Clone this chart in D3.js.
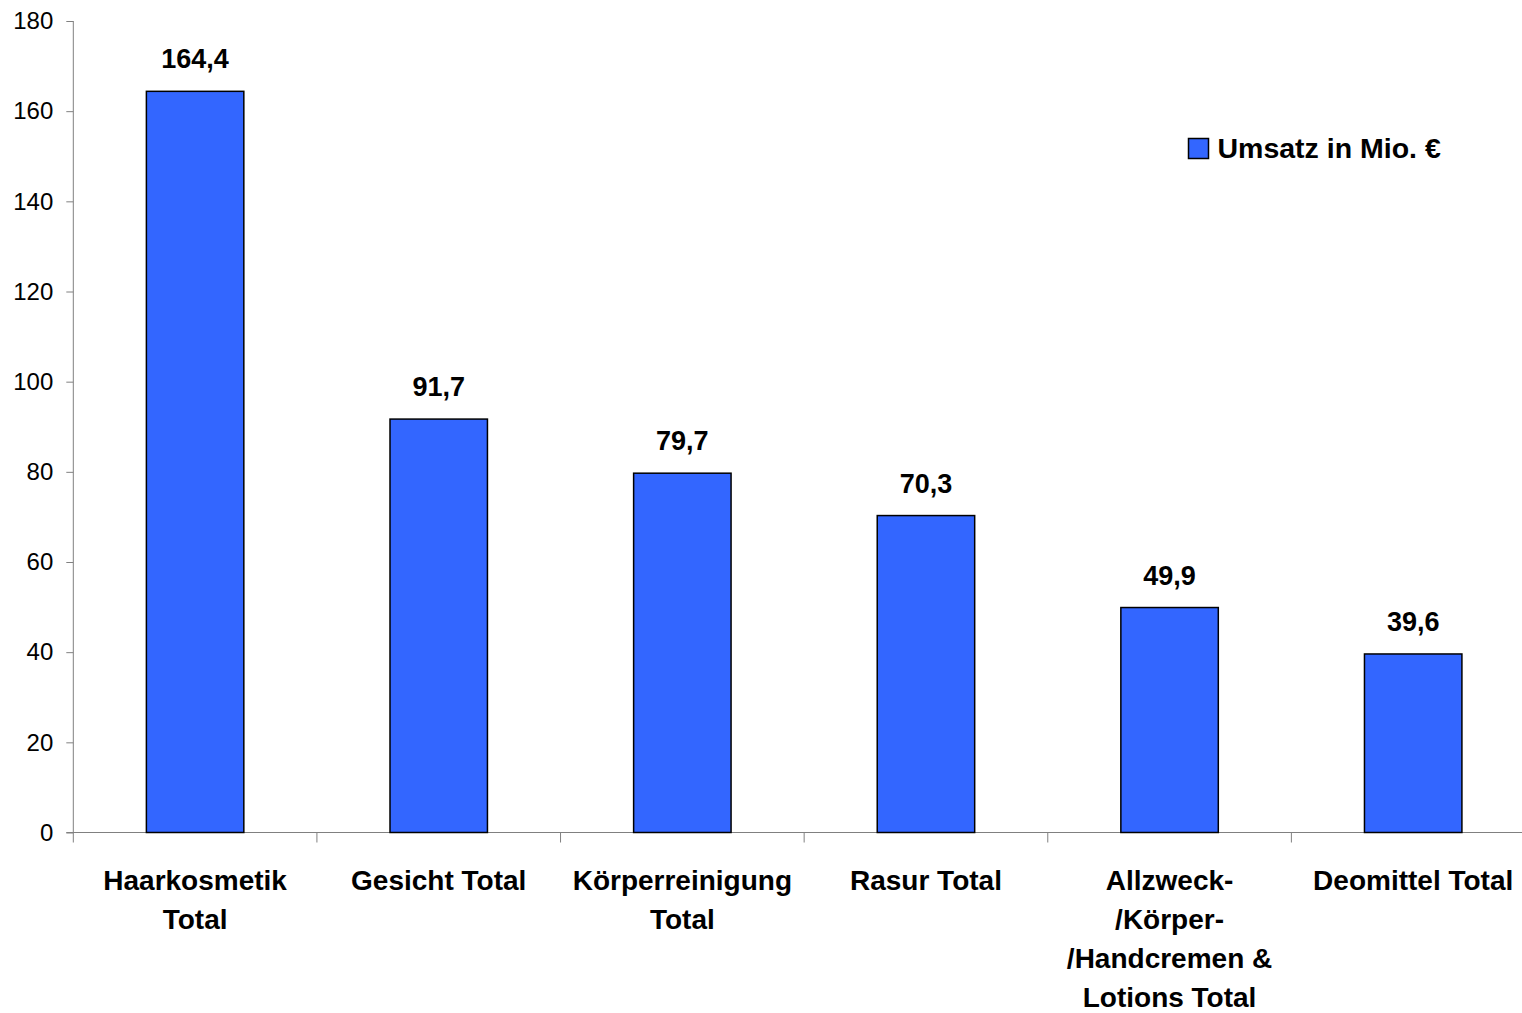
<!DOCTYPE html>
<html>
<head>
<meta charset="utf-8">
<script src="https://cdn.jsdelivr.net/npm/d3@7"></script>
<style>
  body { margin: 0; background: #fff; }
  text { font-family: "Liberation Sans", Arial, sans-serif; }
</style>
</head>
<body>
<svg></svg>
<script>
// categories, one entry per bar (lines as they wrap in the original)
var categories = [
    ["Haarkosmetik", "Total"],
    ["Gesicht Total"],
    ["Körperreinigung", "Total"],
    ["Rasur Total"],
    ["Allzweck-", "/Körper-", "/Handcremen &", "Lotions Total"],
    ["Deomittel Total"]
];
// Umsatz in Mio. €
var umsatz = [164.4, 91.7, 79.7, 70.3, 49.9, 39.6];
var yTicks = [0, 20, 40, 60, 80, 100, 120, 140, 160, 180];
var seriesName = "Umsatz in Mio. €";

var svgWidth = 1522, svgHeight = 1013;
var plotLeft = 73.3, plotRight = 1535, plotTop = 21, plotBottom = 832.5;

var svg = d3.select('svg')
    .attr("width", svgWidth)
    .attr("height", svgHeight);

var x = d3.scaleBand()
    .domain(d3.range(categories.length))
    .range([plotLeft, plotRight])
    .paddingInner(0.6)
    .paddingOuter(0.3);

var y = d3.scaleLinear().domain([0, 180]).range([plotBottom, plotTop]);

// y axis
var yAxis = svg.append("g")
    .attr("transform", "translate(" + plotLeft + ",0)")
    .call(d3.axisLeft(y).tickValues(yTicks).tickSize(7).tickPadding(13).tickFormat(d3.format("d")));
yAxis.select(".domain").attr("stroke", "#808080").attr("d", "M0," + plotTop + "V" + plotBottom);
yAxis.selectAll(".tick line").attr("stroke", "#808080");
yAxis.selectAll(".tick text").attr("font-size", 24).attr("fill", "#000")
    .style("font-family", "'Liberation Sans', Arial, sans-serif");

// x axis: line plus category separator ticks
var bandStep = (plotRight - plotLeft) / categories.length;
var xAxisG = svg.append("g");
xAxisG.append("line")
    .attr("x1", plotLeft - 7).attr("x2", plotRight)
    .attr("y1", plotBottom).attr("y2", plotBottom)
    .attr("stroke", "#808080");
xAxisG.selectAll("line.sep")
    .data(d3.range(categories.length + 1))
    .enter().append("line")
    .attr("class", "sep")
    .attr("x1", function(i){ return plotLeft + i * bandStep; })
    .attr("x2", function(i){ return plotLeft + i * bandStep; })
    .attr("y1", plotBottom).attr("y2", plotBottom + 10)
    .attr("stroke", "#808080");

// bars
svg.selectAll("rect.bar")
    .data(umsatz)
    .enter().append("rect")
    .attr("class", "bar")
    .attr("x", function(d, i){ return x(i); })
    .attr("y", function(d){ return y(d); })
    .attr("width", x.bandwidth())
    .attr("height", function(d){ return y(0) - y(d); })
    .attr("fill", "#3366FF")
    .attr("stroke", "#000")
    .attr("stroke-width", 1.5);

// value labels
svg.selectAll("text.val")
    .data(umsatz)
    .enter().append("text")
    .attr("class", "val")
    .attr("x", function(d, i){ return x(i) + x.bandwidth() / 2; })
    .attr("y", function(d){ return y(d) - 23; })
    .attr("text-anchor", "middle")
    .attr("font-size", 27)
    .attr("font-weight", "bold")
    .text(function(d){ return d3.format(".1f")(d).replace(".", ","); });

// category labels
var catText = svg.selectAll("text.cat")
    .data(categories)
    .enter().append("text")
    .attr("class", "cat")
    .attr("text-anchor", "middle")
    .attr("font-size", 28)
    .attr("font-weight", "bold")
    .attr("x", function(d, i){ return x(i) + x.bandwidth() / 2; })
    .attr("y", 890);
catText.selectAll("tspan")
    .data(function(d){ return d; })
    .enter().append("tspan")
    .attr("x", function(){ return d3.select(this.parentNode).attr("x"); })
    .attr("dy", function(d, i){ return i === 0 ? 0 : 39; })
    .text(function(d){ return d; });

// legend
var legend = svg.append("g").attr("transform", "translate(1188.5,138.5)");
legend.append("rect")
    .attr("width", 20).attr("height", 20)
    .attr("fill", "#3366FF").attr("stroke", "#000").attr("stroke-width", 1.5);
legend.append("text")
    .attr("x", 29).attr("y", 19)
    .attr("font-size", 28.5).attr("font-weight", "bold")
    .text(seriesName);
</script>
</body>
</html>
